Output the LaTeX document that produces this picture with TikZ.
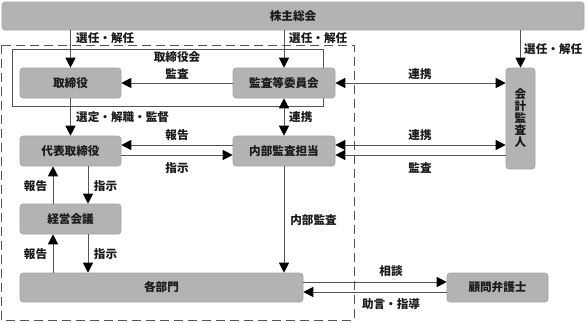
\documentclass[tikz,border=0pt]{standalone}
\usepackage{fontspec}
\setmainfont{Noto Sans CJK JP}
\usetikzlibrary{arrows.meta}
\definecolor{boxfill}{HTML}{B3B3B3}
\definecolor{boxline}{HTML}{A3A3A3}
\definecolor{lin}{HTML}{555555}
\definecolor{txt}{HTML}{1A1A1A}
\tikzset{
  orgbox/.style={rectangle, rounded corners=3pt, fill=boxfill, draw=boxline, line width=0.6pt,
     inner sep=0pt, text=txt, font=\fontsize{11.6}{12}\selectfont\bfseries},
  lbl/.style={inner sep=0pt, text=txt, font=\fontsize{11.6}{12}\selectfont\bfseries},
  arr/.style={draw=lin, line width=0.9pt, -{Triangle[width=10pt,length=10pt,color=black]}},
  darr/.style={draw=lin, line width=0.9pt, {Triangle[width=10pt,length=10pt,color=black]}-{Triangle[width=10pt,length=10pt,color=black]}}
}
\begin{document}
\begin{tikzpicture}[x=1pt,y=-1pt]
\useasboundingbox (0,0) rectangle (587,322);
% frames
\draw[lin, line width=0.9pt, dash pattern=on 9pt off 5pt] (1,45) rectangle (354,320);
\draw[lin, line width=0.8pt] (12,49) rectangle (323,106);
% nodes
\node[orgbox, minimum width=582pt, minimum height=28pt] (top) at (293,16) {株主総会};
\node[orgbox, minimum width=101pt, minimum height=30pt] (tor) at (70.5,83) {取締役};
\node[orgbox, minimum width=102pt, minimum height=30pt] (kan) at (284,83) {監査等委員会};
\node[orgbox, minimum width=101pt, minimum height=30pt] (dai) at (70.5,151) {代表取締役};
\node[orgbox, minimum width=102pt, minimum height=30pt] (nai) at (284,151) {内部監査担当};
\node[orgbox, minimum width=101pt, minimum height=30pt] (kei) at (70.5,219) {経営会議};
\node[orgbox, minimum width=283pt, minimum height=29pt] (kak) at (161.5,287.5) {各部門};
\node[orgbox, minimum width=101pt, minimum height=29pt] (kom) at (497.5,287.5) {顧問弁護士};
\node[orgbox, minimum width=29pt, minimum height=101pt, align=center] (kai) at (520.5,118.5)
   {\fontsize{11.6}{13.5}\selectfont 会\\計\\監\\査\\人};
\node[lbl] (torkai) at (177,57) {取締役会};
% arrows from top
\draw[arr] (top.south -| tor) -- (tor.north);
\draw[arr] (top.south -| kan) -- (kan.north);
\draw[arr] (top.south -| kai) -- (kai.north);
\node[lbl, anchor=west] (l1) at (76,38) {選任・解任};
\node[lbl, anchor=west] (l2) at (289,38) {選任・解任};
\node[lbl, anchor=west] (l3) at (524,49) {選任・解任};
% kan -> tor
\draw[arr] (kan.west) -- (tor.east);
\node[lbl] (l4) at (177,74) {監査};
% kan <-> kai
\draw[darr] (kan.east) -- (kan.east -| kai.west);
\node[lbl] (l5) at (420,74) {連携};
% tor -> dai
\draw[arr] (tor.south) -- (dai.north);
\node[lbl, anchor=west] (l6) at (76,117) {選定・解職・監督};
% kan <-> nai
\draw[darr] (kan.south) -- (nai.north);
\node[lbl, anchor=west] (l7) at (289,117) {連携};
% nai <-> dai
\draw[arr] ([yshift=6pt]nai.west) -- ([yshift=6pt]dai.east);
\draw[arr] ([yshift=-4pt]dai.east) -- ([yshift=-4pt]nai.west);
\node[lbl] (l8) at (177,135) {報告};
\node[lbl] (l9) at (177,168) {指示};
% nai <-> kai
\draw[darr] ([yshift=6pt]nai.east) -- ([yshift=6pt]nai.east -| kai.west);
\draw[arr] ([yshift=-4pt]nai.east -| kai.west) -- ([yshift=-4pt]nai.east);
\node[lbl] (l10) at (420,135) {連携};
\node[lbl] (l11) at (420,168) {監査};
% dai <-> kei
\draw[arr] ([xshift=-17.5pt]kei.north) -- ([xshift=-17.5pt]dai.south);
\draw[arr] ([xshift=17.5pt]dai.south) -- ([xshift=17.5pt]kei.north);
\node[lbl] (l12) at (35.5,186) {報告};
\node[lbl] (l13) at (105.5,186) {指示};
% kei <-> kak
\draw[arr] ([xshift=-17.5pt]kak.north -| kei.south) -- ([xshift=-17.5pt]kei.south);
\draw[arr] ([xshift=17.5pt]kei.south) -- ([xshift=17.5pt]kak.north -| kei.south);
\node[lbl] (l14) at (35.5,254) {報告};
\node[lbl] (l15) at (105.5,254) {指示};
% nai -> kak
\draw[arr] (nai.south) -- (kak.north -| nai.south);
\node[lbl] (l16) at (313.5,220) {内部監査};
% kak <-> kom
\draw[arr] ([yshift=5.5pt]kak.east) -- ([yshift=5.5pt]kak.east -| kom.west);
\draw[arr] ([yshift=-4.5pt]kak.east -| kom.west) -- ([yshift=-4.5pt]kak.east);
\node[lbl] (l17) at (391,271) {相談};
\node[lbl] (l18) at (391,304) {助言・指導};
\end{tikzpicture}
\end{document}
